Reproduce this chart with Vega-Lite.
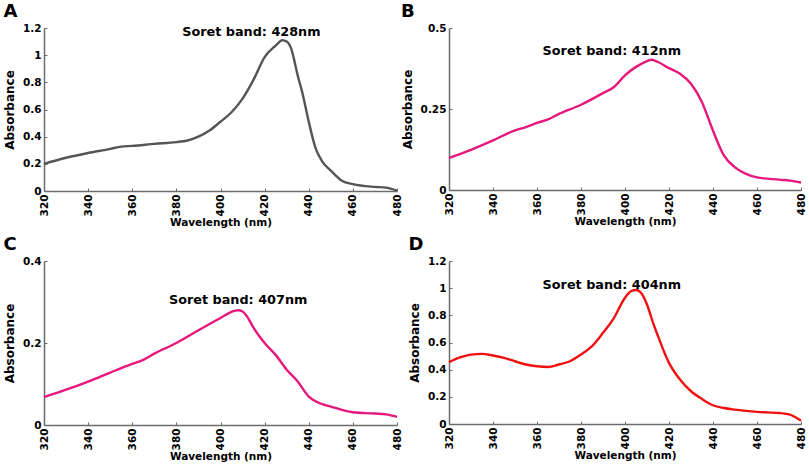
{
  "$schema": "https://vega.github.io/schema/vega-lite/v6.json",
  "background": "white",
  "padding": {"left": 3, "top": 3, "right": 0, "bottom": 2},
  "spacing": {"row": 7, "column": -2},
  "config": {
    "font": "DejaVu Sans",
    "view": {"stroke": null},
    "title": {"fontSize": 18, "fontWeight": "bold", "anchor": "start", "frame": "bounds", "offset": 2, "color": "black"},
    "axis": {
      "grid": false,
      "domainColor": "#6b6b6b",
      "domainWidth": 1.5,
      "tickColor": "#6b6b6b",
      "tickSize": -3,
      "labelPadding": 6,
      "labelOverlap": false,
      "labelFontWeight": "bold",
      "labelFontSize": 10.5,
      "labelColor": "black",
      "titleFontWeight": "bold",
      "titleColor": "black"
    },
    "axisX": {"titleFontSize": 10.5, "titlePadding": 2, "tickCount": 12},
    "axisY": {"titleFontSize": 12, "titlePadding": 6, "tickCount": 10},
    "text": {"font": "DejaVu Sans", "fontWeight": "bold", "fontSize": 12.8}
  },
  "datasets": {
    "spectra": [
      {"panel": "A", "wl": 320, "abs": 0.2},
      {"panel": "A", "wl": 330, "abs": 0.245},
      {"panel": "A", "wl": 340, "abs": 0.28},
      {"panel": "A", "wl": 350, "abs": 0.31},
      {"panel": "A", "wl": 355, "abs": 0.327},
      {"panel": "A", "wl": 360, "abs": 0.332},
      {"panel": "A", "wl": 370, "abs": 0.347},
      {"panel": "A", "wl": 380, "abs": 0.36},
      {"panel": "A", "wl": 385, "abs": 0.372},
      {"panel": "A", "wl": 390, "abs": 0.4},
      {"panel": "A", "wl": 395, "abs": 0.445},
      {"panel": "A", "wl": 400, "abs": 0.51},
      {"panel": "A", "wl": 405, "abs": 0.58},
      {"panel": "A", "wl": 410, "abs": 0.68},
      {"panel": "A", "wl": 415, "abs": 0.82},
      {"panel": "A", "wl": 420, "abs": 0.986},
      {"panel": "A", "wl": 425, "abs": 1.07},
      {"panel": "A", "wl": 428, "abs": 1.11},
      {"panel": "A", "wl": 430, "abs": 1.1},
      {"panel": "A", "wl": 432, "abs": 1.05},
      {"panel": "A", "wl": 435, "abs": 0.85},
      {"panel": "A", "wl": 437, "abs": 0.73},
      {"panel": "A", "wl": 440, "abs": 0.51},
      {"panel": "A", "wl": 443, "abs": 0.32},
      {"panel": "A", "wl": 446, "abs": 0.22},
      {"panel": "A", "wl": 450, "abs": 0.15},
      {"panel": "A", "wl": 455, "abs": 0.076},
      {"panel": "A", "wl": 460, "abs": 0.05},
      {"panel": "A", "wl": 470, "abs": 0.03},
      {"panel": "A", "wl": 475, "abs": 0.025},
      {"panel": "A", "wl": 480, "abs": 0.003},
      {"panel": "B", "wl": 320, "abs": 0.099},
      {"panel": "B", "wl": 330, "abs": 0.124},
      {"panel": "B", "wl": 340, "abs": 0.153},
      {"panel": "B", "wl": 350, "abs": 0.184},
      {"panel": "B", "wl": 355, "abs": 0.194},
      {"panel": "B", "wl": 360, "abs": 0.207},
      {"panel": "B", "wl": 365, "abs": 0.218},
      {"panel": "B", "wl": 370, "abs": 0.235},
      {"panel": "B", "wl": 380, "abs": 0.263},
      {"panel": "B", "wl": 390, "abs": 0.299},
      {"panel": "B", "wl": 395, "abs": 0.318},
      {"panel": "B", "wl": 400, "abs": 0.354},
      {"panel": "B", "wl": 405, "abs": 0.38},
      {"panel": "B", "wl": 410, "abs": 0.398},
      {"panel": "B", "wl": 412, "abs": 0.402},
      {"panel": "B", "wl": 415, "abs": 0.395},
      {"panel": "B", "wl": 420, "abs": 0.376},
      {"panel": "B", "wl": 425, "abs": 0.359},
      {"panel": "B", "wl": 430, "abs": 0.328},
      {"panel": "B", "wl": 435, "abs": 0.271},
      {"panel": "B", "wl": 440, "abs": 0.183},
      {"panel": "B", "wl": 445, "abs": 0.106},
      {"panel": "B", "wl": 450, "abs": 0.07},
      {"panel": "B", "wl": 455, "abs": 0.05},
      {"panel": "B", "wl": 460, "abs": 0.039},
      {"panel": "B", "wl": 470, "abs": 0.032},
      {"panel": "B", "wl": 475, "abs": 0.029},
      {"panel": "B", "wl": 480, "abs": 0.023},
      {"panel": "C", "wl": 320, "abs": 0.068},
      {"panel": "C", "wl": 330, "abs": 0.086},
      {"panel": "C", "wl": 340, "abs": 0.106},
      {"panel": "C", "wl": 350, "abs": 0.128},
      {"panel": "C", "wl": 355, "abs": 0.139},
      {"panel": "C", "wl": 360, "abs": 0.149},
      {"panel": "C", "wl": 365, "abs": 0.159},
      {"panel": "C", "wl": 370, "abs": 0.174},
      {"panel": "C", "wl": 380, "abs": 0.2},
      {"panel": "C", "wl": 390, "abs": 0.231},
      {"panel": "C", "wl": 400, "abs": 0.261},
      {"panel": "C", "wl": 405, "abs": 0.276},
      {"panel": "C", "wl": 408, "abs": 0.28},
      {"panel": "C", "wl": 410, "abs": 0.277},
      {"panel": "C", "wl": 412, "abs": 0.265},
      {"panel": "C", "wl": 415, "abs": 0.237},
      {"panel": "C", "wl": 420, "abs": 0.2},
      {"panel": "C", "wl": 425, "abs": 0.171},
      {"panel": "C", "wl": 430, "abs": 0.135},
      {"panel": "C", "wl": 435, "abs": 0.106},
      {"panel": "C", "wl": 440, "abs": 0.069},
      {"panel": "C", "wl": 445, "abs": 0.053},
      {"panel": "C", "wl": 450, "abs": 0.045},
      {"panel": "C", "wl": 455, "abs": 0.037},
      {"panel": "C", "wl": 460, "abs": 0.031},
      {"panel": "C", "wl": 470, "abs": 0.028},
      {"panel": "C", "wl": 475, "abs": 0.026},
      {"panel": "C", "wl": 480, "abs": 0.02},
      {"panel": "D", "wl": 320, "abs": 0.455},
      {"panel": "D", "wl": 325, "abs": 0.49},
      {"panel": "D", "wl": 330, "abs": 0.511},
      {"panel": "D", "wl": 335, "abs": 0.516},
      {"panel": "D", "wl": 340, "abs": 0.504},
      {"panel": "D", "wl": 345, "abs": 0.487},
      {"panel": "D", "wl": 350, "abs": 0.462},
      {"panel": "D", "wl": 355, "abs": 0.438},
      {"panel": "D", "wl": 360, "abs": 0.425},
      {"panel": "D", "wl": 365, "abs": 0.42},
      {"panel": "D", "wl": 370, "abs": 0.438},
      {"panel": "D", "wl": 375, "abs": 0.462},
      {"panel": "D", "wl": 380, "abs": 0.511},
      {"panel": "D", "wl": 385, "abs": 0.573},
      {"panel": "D", "wl": 390, "abs": 0.671},
      {"panel": "D", "wl": 395, "abs": 0.782},
      {"panel": "D", "wl": 400, "abs": 0.93},
      {"panel": "D", "wl": 403, "abs": 0.98},
      {"panel": "D", "wl": 405, "abs": 0.986},
      {"panel": "D", "wl": 407, "abs": 0.971},
      {"panel": "D", "wl": 410, "abs": 0.88},
      {"panel": "D", "wl": 413, "abs": 0.733},
      {"panel": "D", "wl": 415, "abs": 0.647},
      {"panel": "D", "wl": 420, "abs": 0.45},
      {"panel": "D", "wl": 425, "abs": 0.327},
      {"panel": "D", "wl": 430, "abs": 0.241},
      {"panel": "D", "wl": 435, "abs": 0.184},
      {"panel": "D", "wl": 440, "abs": 0.138},
      {"panel": "D", "wl": 445, "abs": 0.118},
      {"panel": "D", "wl": 450, "abs": 0.106},
      {"panel": "D", "wl": 460, "abs": 0.089},
      {"panel": "D", "wl": 470, "abs": 0.081},
      {"panel": "D", "wl": 475, "abs": 0.069},
      {"panel": "D", "wl": 478, "abs": 0.044},
      {"panel": "D", "wl": 480, "abs": 0.025}
    ],
    "notes": [
      {"panel": "A", "wl": 414, "abs": 1.17, "label": "Soret band: 428nm"},
      {"panel": "B", "wl": 394, "abs": 0.43, "label": "Soret band: 412nm"},
      {"panel": "C", "wl": 408, "abs": 0.305, "label": "Soret band: 407nm"},
      {"panel": "D", "wl": 394, "abs": 1.023, "label": "Soret band: 404nm"}
    ]
  },
  "columns": 2,
  "concat": [
    {
      "title": "A",
      "width": 353,
      "height": 163,
      "layer": [
        {
          "data": {"name": "spectra"},
          "transform": [{"filter": "datum.panel == 'A'"}],
          "mark": {"type": "line", "color": "#555555", "strokeWidth": 2.4, "interpolate": "monotone"},
          "encoding": {
            "x": {"field": "wl", "type": "quantitative", "scale": {"domain": [320, 480]}, "axis": {"title": "Wavelength (nm)", "values": [320, 340, 360, 380, 400, 420, 440, 460, 480], "labelAngle": -90}},
            "y": {"field": "abs", "type": "quantitative", "scale": {"domain": [0, 1.2]}, "axis": {"title": "Absorbance", "values": [0, 0.2, 0.4, 0.6, 0.8, 1, 1.2], "format": ".2~f", "tickCount": 10}}
          }
        },
        {
          "data": {"name": "notes"},
          "transform": [{"filter": "datum.panel == 'A'"}],
          "mark": {"type": "text"},
          "encoding": {
            "x": {"field": "wl", "type": "quantitative"},
            "y": {"field": "abs", "type": "quantitative"},
            "text": {"field": "label"}
          }
        }
      ]
    },
    {
      "title": "B",
      "width": 352,
      "height": 162,
      "layer": [
        {
          "data": {"name": "spectra"},
          "transform": [{"filter": "datum.panel == 'B'"}],
          "mark": {"type": "line", "color": "#e6177d", "strokeWidth": 2.4, "interpolate": "monotone"},
          "encoding": {
            "x": {"field": "wl", "type": "quantitative", "scale": {"domain": [320, 480]}, "axis": {"title": "Wavelength (nm)", "values": [320, 340, 360, 380, 400, 420, 440, 460, 480], "labelAngle": -90}},
            "y": {"field": "abs", "type": "quantitative", "scale": {"domain": [0, 0.5]}, "axis": {"title": "Absorbance", "values": [0, 0.25, 0.5], "format": ".2~f", "tickCount": 10}}
          }
        },
        {
          "data": {"name": "notes"},
          "transform": [{"filter": "datum.panel == 'B'"}],
          "mark": {"type": "text"},
          "encoding": {
            "x": {"field": "wl", "type": "quantitative"},
            "y": {"field": "abs", "type": "quantitative"},
            "text": {"field": "label"}
          }
        }
      ]
    },
    {
      "title": "C",
      "width": 353,
      "height": 164,
      "layer": [
        {
          "data": {"name": "spectra"},
          "transform": [{"filter": "datum.panel == 'C'"}],
          "mark": {"type": "line", "color": "#e6177d", "strokeWidth": 2.4, "interpolate": "monotone"},
          "encoding": {
            "x": {"field": "wl", "type": "quantitative", "scale": {"domain": [320, 480]}, "axis": {"title": "Wavelength (nm)", "values": [320, 340, 360, 380, 400, 420, 440, 460, 480], "labelAngle": -90}},
            "y": {"field": "abs", "type": "quantitative", "scale": {"domain": [0, 0.4]}, "axis": {"title": "Absorbance", "values": [0, 0.2, 0.4], "format": ".2~f", "tickCount": 10}}
          }
        },
        {
          "data": {"name": "notes"},
          "transform": [{"filter": "datum.panel == 'C'"}],
          "mark": {"type": "text"},
          "encoding": {
            "x": {"field": "wl", "type": "quantitative"},
            "y": {"field": "abs", "type": "quantitative"},
            "text": {"field": "label"}
          }
        }
      ]
    },
    {
      "title": "D",
      "width": 352,
      "height": 163,
      "layer": [
        {
          "data": {"name": "spectra"},
          "transform": [{"filter": "datum.panel == 'D'"}],
          "mark": {"type": "line", "color": "#f01010", "strokeWidth": 2.4, "interpolate": "monotone"},
          "encoding": {
            "x": {"field": "wl", "type": "quantitative", "scale": {"domain": [320, 480]}, "axis": {"title": "Wavelength (nm)", "values": [320, 340, 360, 380, 400, 420, 440, 460, 480], "labelAngle": -90}},
            "y": {"field": "abs", "type": "quantitative", "scale": {"domain": [0, 1.2]}, "axis": {"title": "Absorbance", "values": [0, 0.2, 0.4, 0.6, 0.8, 1, 1.2], "format": ".2~f", "tickCount": 10}}
          }
        },
        {
          "data": {"name": "notes"},
          "transform": [{"filter": "datum.panel == 'D'"}],
          "mark": {"type": "text"},
          "encoding": {
            "x": {"field": "wl", "type": "quantitative"},
            "y": {"field": "abs", "type": "quantitative"},
            "text": {"field": "label"}
          }
        }
      ]
    }
  ]
}
